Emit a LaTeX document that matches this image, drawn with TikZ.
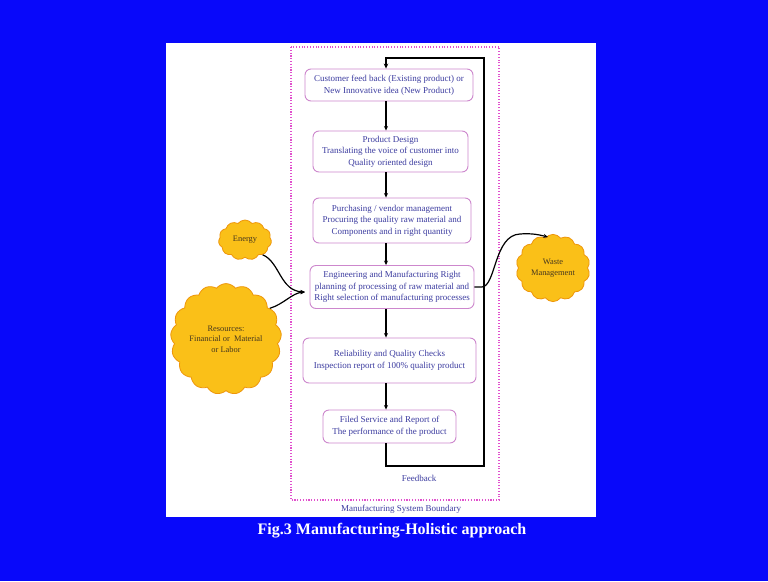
\documentclass[tikz,border=0pt]{standalone}
\usepackage{fontspec}
\setmainfont{Liberation Serif}
\usetikzlibrary{shapes.symbols,arrows.meta}
\definecolor{slideblue}{RGB}{8,8,250}
\definecolor{boxline}{RGB}{205,135,205}
\definecolor{boxtext}{RGB}{60,60,160}
\definecolor{bound}{RGB}{225,80,205}
\definecolor{cloudfill}{RGB}{250,192,24}
\definecolor{cloudline}{RGB}{238,150,10}
\definecolor{cloudtext}{RGB}{70,55,30}
\tikzset{
  stepbox/.style={draw=boxline, line width=0.9pt, rounded corners=6pt, fill=white,
    align=center, text=boxtext, inner sep=2pt,
    font=\fontsize{9}{11.6}\selectfont},
  puff/.style={cloud, cloud puff arc=105, draw=cloudline, line width=0.8pt, fill=cloudfill, align=center,
    text=cloudtext, font=\fontsize{8.4}{10.5}\selectfont, inner sep=0pt},
  flow/.style={line width=1.2pt, -{Stealth[length=4.5pt,width=4pt]}},
  lbl/.style={text=boxtext, font=\fontsize{9}{10}\selectfont}
}
\begin{document}
\begin{tikzpicture}[x=1pt,y=-1pt]
\useasboundingbox (0,0) rectangle (768,581);
% slide background and white panel
\fill[slideblue] (0,0) rectangle (768,581);
\fill[white] (166,43) rectangle (596,517);
% system boundary
\draw[bound, line width=1.2pt, dash pattern=on 1.1pt off 1.7pt] (291,47) rectangle (499,500);
\node[lbl] (boundlbl) at (401,509) {Manufacturing System Boundary};

% process steps
\node[stepbox, minimum width=168pt, minimum height=32pt] (b1) at (389,85)
  {Customer feed back (Existing product) or\\New Innovative idea (New Product)};
\node[stepbox, minimum width=155pt, minimum height=41pt] (b2) at (390.5,151.5)
  {Product Design\\Translating the voice of customer into\\Quality oriented design};
\node[stepbox, minimum width=158pt, minimum height=45pt] (b3) at (392,220.5)
  {Purchasing / vendor management\\Procuring the quality raw material and\\Components and in right quantity};
\node[stepbox, minimum width=164pt, minimum height=43pt] (b4) at (392,287)
  {Engineering and Manufacturing Right\\planning of processing of raw material and\\Right selection of manufacturing processes};
\node[stepbox, minimum width=173pt, minimum height=45pt] (b5) at (389.5,360.5)
  {Reliability and Quality Checks\\Inspection report of 100\% quality product};
\node[stepbox, minimum width=133pt, minimum height=33pt] (b6) at (389.5,426.5)
  {Filed Service and Report of\\The performance of the product};

% main spine
\coordinate (spine) at (386,0);
\draw[flow] (b1.south -| spine) -- (b2.north -| spine);
\draw[flow] (b2.south -| spine) -- (b3.north -| spine);
\draw[flow] (b3.south -| spine) -- (b4.north -| spine);
\draw[flow] (b4.south -| spine) -- (b5.north -| spine);
\draw[flow] (b5.south -| spine) -- (b6.north -| spine);

% feedback loop
\coordinate (fbBL) at (386,466);
\coordinate (fbBR) at (484,466);
\coordinate (fbTR) at (484,58);
\coordinate (fbTL) at (386,58);
\draw[line width=1.5pt, -{Stealth[length=5pt,width=4.5pt]}]
  (b6.south -| spine) -- (fbBL) -- (fbBR) -- (fbTR) -- (fbTL) -- (b1.north -| spine);
\node[lbl] (fblbl) at (419,478) {Feedback};

% inputs and outputs
\node[puff, cloud puffs=11, minimum width=53pt, minimum height=40pt] (energy) at (245,240) {Energy};
\node[puff, cloud puffs=17, minimum width=103pt, minimum height=82pt] (res) at (226,339)
  {Resources:\\Financial or~ Material\\or Labor};
\node[puff, cloud puffs=14, minimum width=74pt, minimum height=66pt] (waste) at (553,268)
  {Waste\\Management};

\coordinate (tipIn) at (305,292);
\coordinate (wasteIn) at (548,237);
\draw[line width=1.2pt, -{Stealth[length=4.5pt,width=4pt]}]
  (energy.-40) .. controls (280,262) and (280,291) .. (tipIn);
\draw[line width=1.2pt, -{Stealth[length=4.5pt,width=4pt]}]
  (res.35) .. controls (284,304) and (292,293) .. (tipIn);
\draw[line width=1.2pt, -{Stealth[length=4.5pt,width=4pt]}]
  (b4.east) -- (482,287) .. controls (496,286) and (494,235) .. (520,234)
  .. controls (532,233) and (540,235) .. (wasteIn);

% caption
\node[text=white, font=\fontsize{16}{18}\bfseries] (cap) at (392,531)
  {Fig.3 Manufacturing-Holistic approach};
\end{tikzpicture}
\end{document}
